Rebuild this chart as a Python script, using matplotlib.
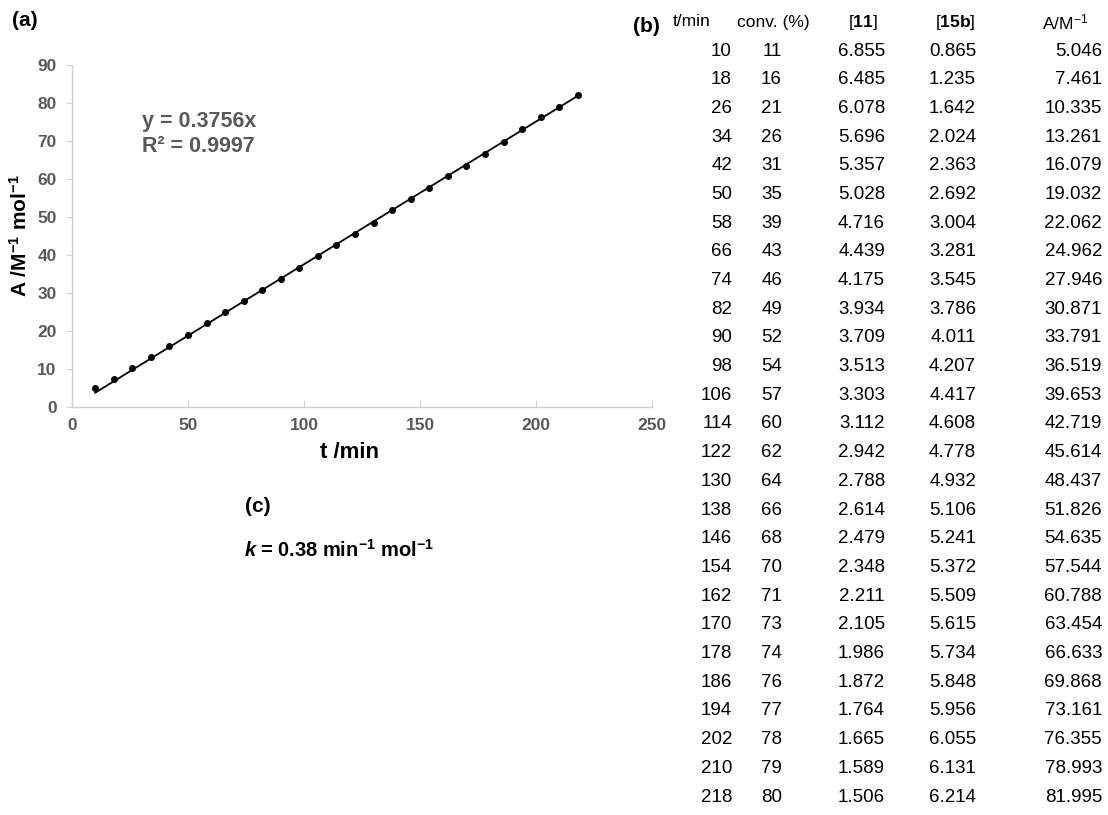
import matplotlib.pyplot as plt
import numpy as np

plt.rcParams['font.family'] = ['Liberation Sans', 'DejaVu Sans']
plt.rcParams['mathtext.fontset'] = 'custom'
plt.rcParams['mathtext.rm'] = 'Liberation Sans'
plt.rcParams['mathtext.bf'] = 'Liberation Sans:bold'
plt.rcParams['mathtext.it'] = 'Liberation Sans:italic'

# data from the table (b)
t_min = [10, 18, 26, 34, 42, 50, 58, 66, 74, 82, 90, 98, 106, 114, 122, 130,
         138, 146, 154, 162, 170, 178, 186, 194, 202, 210, 218]
conv = [11, 16, 21, 26, 31, 35, 39, 43, 46, 49, 52, 54, 57, 60, 62, 64,
        66, 68, 70, 71, 73, 74, 76, 77, 78, 79, 80]
c11 = ["6.855", "6.485", "6.078", "5.696", "5.357", "5.028", "4.716", "4.439",
       "4.175", "3.934", "3.709", "3.513", "3.303", "3.112", "2.942", "2.788",
       "2.614", "2.479", "2.348", "2.211", "2.105", "1.986", "1.872", "1.764",
       "1.665", "1.589", "1.506"]
c15b = ["0.865", "1.235", "1.642", "2.024", "2.363", "2.692", "3.004", "3.281",
        "3.545", "3.786", "4.011", "4.207", "4.417", "4.608", "4.778", "4.932",
        "5.106", "5.241", "5.372", "5.509", "5.615", "5.734", "5.848", "5.956",
        "6.055", "6.131", "6.214"]
A_val = ["5.046", "7.461", "10.335", "13.261", "16.079", "19.032", "22.062",
         "24.962", "27.946", "30.871", "33.791", "36.519", "39.653", "42.719",
         "45.614", "48.437", "51.826", "54.635", "57.544", "60.788", "63.454",
         "66.633", "69.868", "73.161", "76.355", "78.993", "81.995"]
slope = 0.3756
r2 = 0.9997
k_val = 0.38

W, H = 1108, 815
fig = plt.figure(figsize=(W / 100, H / 100), dpi=100)

def fx(px):
    return px / W

def fy(py):
    return 1 - py / H

# ---- (a) plot
ax = fig.add_axes([fx(72), fy(407), fx(652) - fx(72), fy(65) - fy(407)])
t_arr = np.array(t_min, dtype=float)
a_arr = np.array([float(v) for v in A_val])
ax.plot(t_arr, a_arr, 'o', color='black', markersize=4, zorder=3)
fit_t = np.array([t_arr[0], t_arr[-1]])
ax.plot(fit_t, slope * fit_t, color='black', linewidth=1.3)
ax.set_xlim(0, 250)
ax.set_ylim(0, 90)
ax.set_xticks(range(0, 251, 50))
ax.set_yticks(range(0, 91, 10))
for s in ['top', 'right']:
    ax.spines[s].set_visible(False)
for s in ['left', 'bottom']:
    ax.spines[s].set_color('#d0d0d0')
    ax.spines[s].set_linewidth(1.0)
ax.tick_params(axis='y', direction='out', length=4, color='#d0d0d0',
               labelcolor='#595959', labelsize=12.5, pad=7)
ax.tick_params(axis='x', direction='in', length=5, color='#d0d0d0',
               labelcolor='#595959', labelsize=12.5, pad=8)
for lab in ax.get_xticklabels() + ax.get_yticklabels():
    lab.set_fontweight('bold')
    lab.set_family(['Liberation Sans Narrow', 'Liberation Sans'])

fig.text(fx(142), fy(122), f'y = {slope:.4f}x', fontsize=15.5, fontweight='bold',
         color='#595959', va='center')
fig.text(fx(142), fy(147), f'R² = {r2:.4f}', fontsize=15.5, fontweight='bold',
         color='#595959', va='center')

fig.text(fx(349), fy(453), 't /min', fontsize=16, fontweight='bold',
         ha='center', va='center')
fig.text(fx(20), fy(236), r'A /M$^{\mathbf{-1}}$ mol$^{\mathbf{-1}}$',
         fontsize=15, fontweight='bold', rotation=90, ha='center', va='center')

fig.text(fx(12), fy(20), '(a)', fontsize=15, fontweight='bold', va='center')
fig.text(fx(633), fy(27), '(b)', fontsize=15, fontweight='bold', va='center')
fig.text(fx(245), fy(507), '(c)', fontsize=15, fontweight='bold', va='center')
fig.text(fx(245), fy(550), 'k', fontsize=14.5, fontweight='bold',
         style='italic', va='center')
fig.text(fx(260), fy(550), f'= {k_val:.2f} min' + r'$^{\mathbf{-1}}$' +
         ' mol' + r'$^{\mathbf{-1}}$', fontsize=14.5, fontweight='bold',
         va='center')

# ---- (b) table
hdr_y = fy(22)
fig.text(fx(673), hdr_y, 't/min', fontsize=12.5, va='center')
fig.text(fx(737), hdr_y, 'conv. (%)', fontsize=12.5, va='center')
fig.text(fx(863), hdr_y, r'[$\mathbf{11}$]', fontsize=12.5, va='center',
         ha='center')
fig.text(fx(955), hdr_y, r'[$\mathbf{15b}$]', fontsize=12.5, va='center',
         ha='center')
fig.text(fx(1042), hdr_y, r'A/M$^{-1}$', fontsize=12.5, va='center')

col_right = [732, 782, 885, 976, 1102]
row0 = 51
step = (797 - 51) / (len(t_min) - 1)
cols = [[str(v) for v in t_min], [str(v) for v in conv], c11, c15b, A_val]
for i in range(len(t_min)):
    y = fy(row0 + i * step)
    for c, xr in zip(cols, col_right):
        fig.text(fx(xr), y, c[i], fontsize=13.5, ha='right', va='center')

fig.savefig('out.png', dpi=100)
